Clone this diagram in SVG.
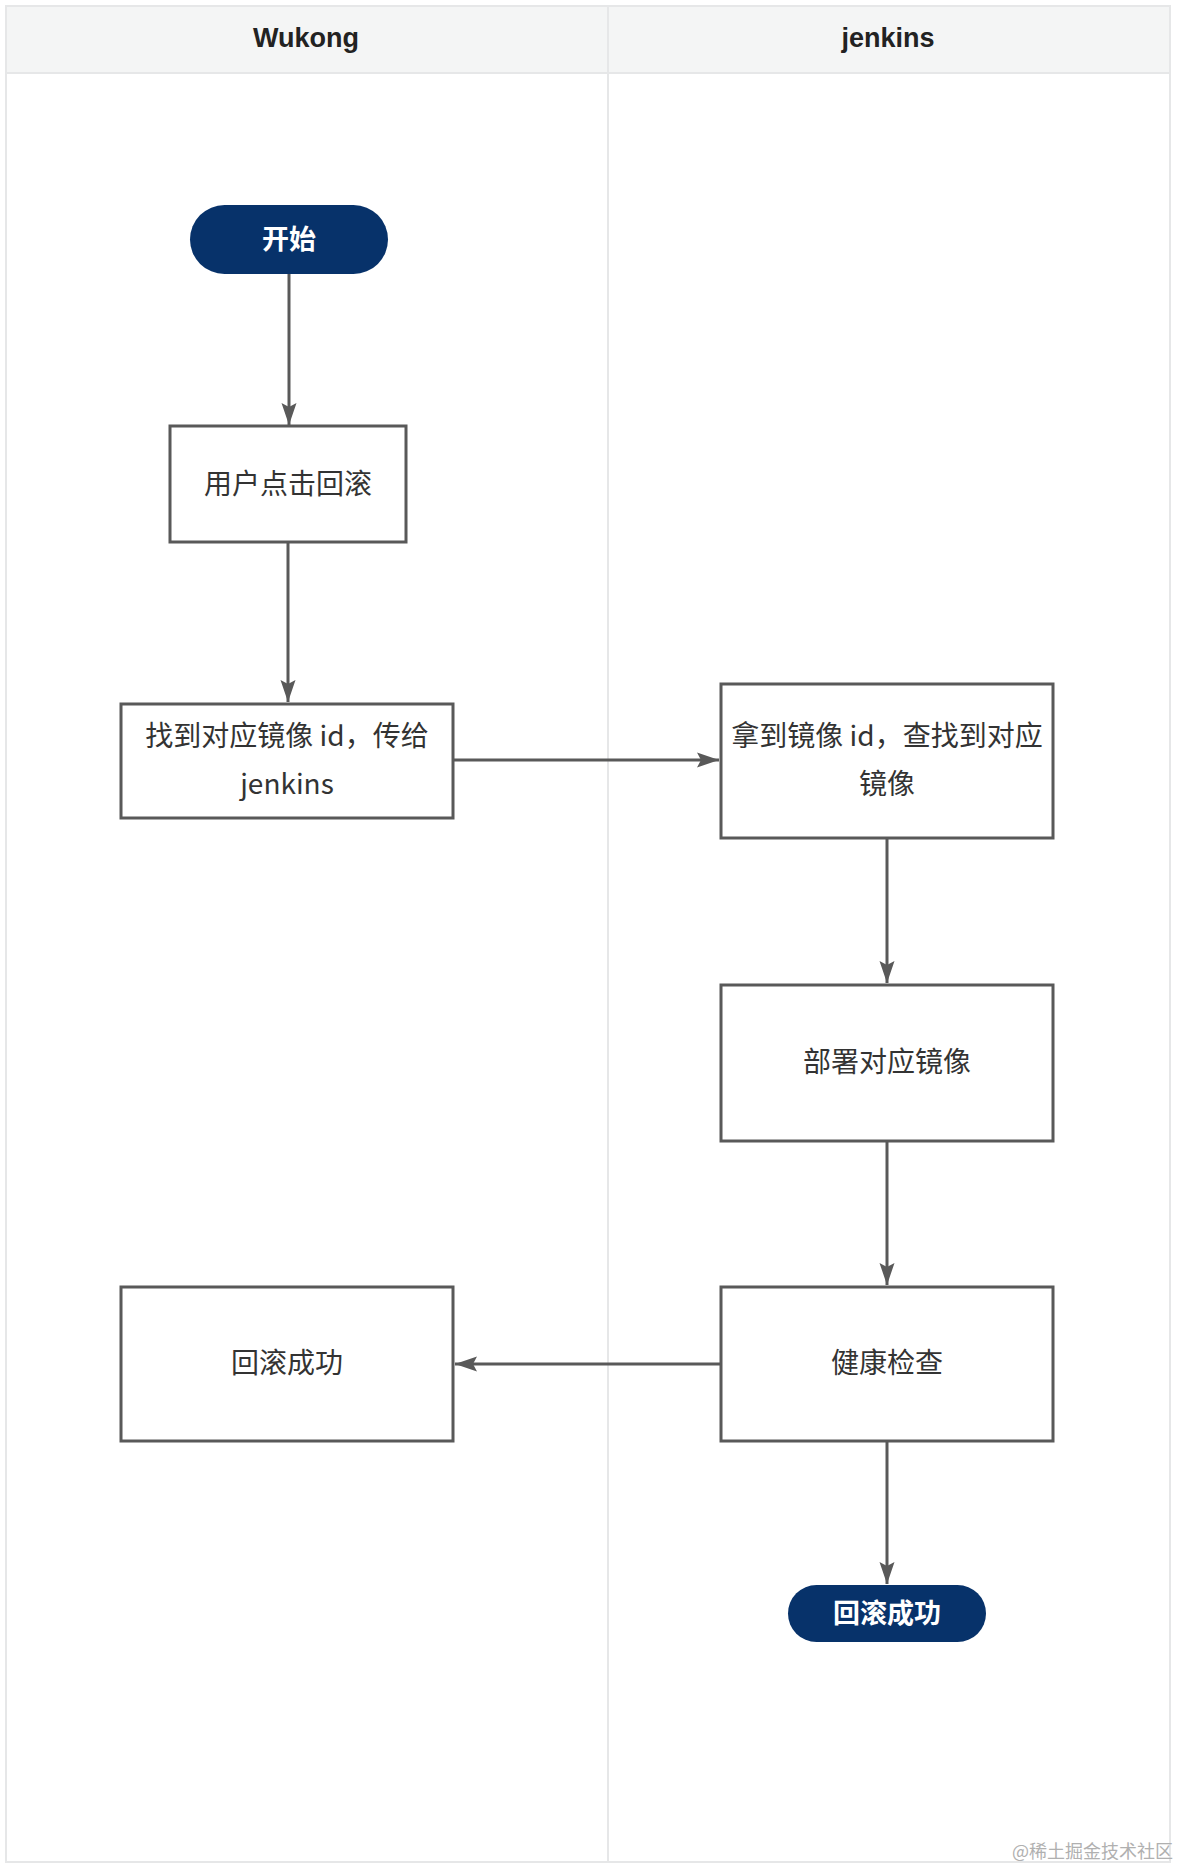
<svg xmlns="http://www.w3.org/2000/svg" width="1179" height="1868" viewBox="0 0 1179 1868">
<style>
.lane{fill:#ffffff;stroke:#e6e7e8;stroke-width:2}
.hdr{fill:#f4f5f5;stroke:#e6e7e8;stroke-width:2}
.hdrt{font-family:"Liberation Sans",Arial,sans-serif;font-weight:bold;font-size:27px;fill:#222;text-anchor:middle}
.box{fill:#ffffff;stroke:#595959;stroke-width:3}
.pill{fill:#07326a}
.t{font-family:"Noto Sans CJK SC","Noto Sans",sans-serif;font-size:28px;fill:#333;text-anchor:middle}
.pt{font-family:"Noto Sans CJK SC","Noto Sans",sans-serif;font-size:27px;font-weight:bold;fill:#ffffff;text-anchor:middle}
.edge{fill:none;stroke:#595959;stroke-width:3}
.wm{font-family:"Noto Sans CJK SC",serif;font-size:18px;fill:#b0b0b0;text-anchor:end}
</style>
<defs>
<marker id="arr" markerUnits="userSpaceOnUse" markerWidth="24" markerHeight="16" refX="22" refY="8" orient="auto">
<path d="M0,0.5 L22,8 L0,15.5 L4,8 z" fill="#595959"/>
</marker>
</defs>
<rect width="1179" height="1868" fill="#ffffff"/>
<g id="lanes">
<rect class="lane" x="6" y="6" width="602" height="1856"/>
<rect class="lane" x="608" y="6" width="562" height="1856"/>
<rect class="hdr" x="6" y="6" width="602" height="67"/>
<rect class="hdr" x="608" y="6" width="562" height="67"/>
<text class="hdrt" x="306" y="47">Wukong</text>
<text class="hdrt" x="888" y="47">jenkins</text>
</g>
<g id="edges">
<line class="edge" x1="289" y1="274" x2="289" y2="425" marker-end="url(#arr)"/>
<line class="edge" x1="288" y1="542" x2="288" y2="702" marker-end="url(#arr)"/>
<line class="edge" x1="453" y1="760" x2="719" y2="760" marker-end="url(#arr)"/>
<line class="edge" x1="887" y1="838" x2="887" y2="983" marker-end="url(#arr)"/>
<line class="edge" x1="887" y1="1141" x2="887" y2="1285" marker-end="url(#arr)"/>
<line class="edge" x1="720" y1="1364" x2="455" y2="1364" marker-end="url(#arr)"/>
<line class="edge" x1="887" y1="1441" x2="887" y2="1584" marker-end="url(#arr)"/>
</g>
<g id="start">
<rect class="pill" x="190" y="205" width="198" height="69" rx="34.5"/>
<text class="pt" x="289" y="249">开始</text>
</g>
<g id="click">
<rect class="box" x="170" y="426" width="236" height="116"/>
<text class="t" x="288" y="494">用户点击回滚</text>
</g>
<g id="find">
<rect class="box" x="121" y="704" width="332" height="114"/>
<text class="t" x="287" y="746">找到对应镜像 id，传给</text>
<text class="t" x="287" y="794">jenkins</text>
</g>
<g id="fetch">
<rect class="box" x="721" y="684" width="332" height="154"/>
<text class="t" x="887" y="746">拿到镜像 id，查找到对应</text>
<text class="t" x="887" y="794">镜像</text>
</g>
<g id="deploy">
<rect class="box" x="721" y="985" width="332" height="156"/>
<text class="t" x="887" y="1072">部署对应镜像</text>
</g>
<g id="health">
<rect class="box" x="721" y="1287" width="332" height="154"/>
<text class="t" x="887" y="1373">健康检查</text>
</g>
<g id="rollback-ok">
<rect class="box" x="121" y="1287" width="332" height="154"/>
<text class="t" x="287" y="1373">回滚成功</text>
</g>
<g id="end">
<rect class="pill" x="788" y="1585" width="198" height="57" rx="28.5"/>
<text class="pt" x="887" y="1623">回滚成功</text>
</g>
<text class="wm" x="1173" y="1858">@稀土掘金技术社区</text>
</svg>
